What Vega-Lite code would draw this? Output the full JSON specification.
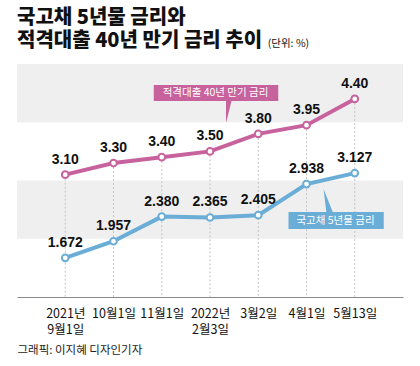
{
  "$schema": "https://vega.github.io/schema/vega-lite/v6.json",
  "autosize": {"type": "none"},
  "width": 386,
  "height": 233,
  "padding": {"left": 17, "top": 64, "right": 17, "bottom": 69},
  "background": "white",
  "title": {
    "text": ["국고채 5년물 금리와", "적격대출 40년 만기 금리 추이"],
    "anchor": "start",
    "frame": "group",
    "font": "Noto Sans CJK KR",
    "fontWeight": 900,
    "fontSize": 20,
    "lineHeight": 23,
    "color": "#111111",
    "offset": -12
  },
  "config": {"view": {"stroke": null}},
  "datasets": {
    "rates": [
      {"date": "2021년 9월1일", "loan": 3.10, "bond": 1.672},
      {"date": "10월1일", "loan": 3.30, "bond": 1.957},
      {"date": "11월1일", "loan": 3.40, "bond": 2.380},
      {"date": "2022년 2월3일", "loan": 3.50, "bond": 2.365},
      {"date": "3월2일", "loan": 3.80, "bond": 2.405},
      {"date": "4월1일", "loan": 3.95, "bond": 2.938},
      {"date": "5월13일", "loan": 4.40, "bond": 3.127}
    ],
    "bands": [
      {"lo": 4, "hi": 5},
      {"lo": 2, "hi": 3}
    ]
  },
  "encoding": {
    "x": {
      "field": "date",
      "type": "nominal",
      "scale": {
        "type": "point",
        "domain": ["2021년 9월1일", "10월1일", "11월1일", "2022년 2월3일", "3월2일", "4월1일", "5월13일"],
        "padding": 1.063
      },
      "axis": {
        "title": "그래픽: 이지혜 디자인기자",
        "titleAnchor": "start",
        "titleAlign": "left",
        "titleFont": "Noto Sans CJK KR",
        "titleFontWeight": "normal",
        "titleFontSize": 11.5,
        "titleColor": "#222222",
        "titlePadding": 9,
        "labelExpr": "split(datum.label, ' ')",
        "labelAngle": 0,
        "labelFont": "Noto Sans CJK KR",
        "labelFontSize": 12.5,
        "labelLineHeight": 16,
        "labelColor": "#111111",
        "labelPadding": 10,
        "ticks": false,
        "grid": false,
        "domainColor": "#8a8a8a",
        "domainWidth": 1
      }
    }
  },
  "layer": [
    {
      "data": {"name": "bands"},
      "mark": {"type": "rect", "color": "#efefef"},
      "encoding": {
        "x": null,
        "y": {"field": "lo", "type": "quantitative", "scale": {"domain": [1, 5], "nice": false, "zero": false}, "axis": null},
        "y2": {"field": "hi"}
      }
    },
    {
      "data": {"name": "rates"},
      "mark": {"type": "rule", "color": "#c4c4c4", "strokeDash": [2, 2], "strokeWidth": 1},
      "encoding": {
        "y": {"field": "loan", "type": "quantitative"},
        "y2": {"datum": 1}
      }
    },
    {
      "data": {"name": "rates"},
      "mark": {"type": "line", "color": "#c8629d", "strokeWidth": 4},
      "encoding": {"y": {"field": "loan", "type": "quantitative"}}
    },
    {
      "data": {"name": "rates"},
      "mark": {"type": "line", "color": "#6aadd6", "strokeWidth": 4},
      "encoding": {"y": {"field": "bond", "type": "quantitative"}}
    },
    {
      "data": {"name": "rates"},
      "mark": {"type": "point", "filled": true, "fill": "white", "stroke": "#c8629d", "strokeWidth": 2, "size": 45, "opacity": 1},
      "encoding": {"y": {"field": "loan", "type": "quantitative"}}
    },
    {
      "data": {"name": "rates"},
      "mark": {"type": "point", "filled": true, "fill": "white", "stroke": "#6aadd6", "strokeWidth": 2, "size": 45, "opacity": 1},
      "encoding": {"y": {"field": "bond", "type": "quantitative"}}
    },
    {
      "data": {"name": "rates"},
      "mark": {"type": "text", "dy": -15, "font": "Liberation Sans", "fontWeight": "bold", "fontSize": 14, "color": "#111111"},
      "encoding": {
        "y": {"field": "loan", "type": "quantitative"},
        "text": {"field": "loan", "type": "quantitative", "format": ".2f"}
      }
    },
    {
      "data": {"name": "rates"},
      "mark": {"type": "text", "dy": -15, "font": "Liberation Sans", "fontWeight": "bold", "fontSize": 14, "color": "#111111"},
      "encoding": {
        "y": {"field": "bond", "type": "quantitative"},
        "text": {"field": "bond", "type": "quantitative", "format": ".3f"}
      }
    },
    {
      "data": {"values": [{}]},
      "mark": {"type": "rect", "color": "#c8629d", "xOffset": -8, "x2Offset": 20},
      "encoding": {
        "x": {"datum": "11월1일"},
        "x2": {"datum": "3월2일"},
        "y": {"datum": 4.365},
        "y2": {"datum": 4.64}
      }
    },
    {
      "data": {"values": [{}]},
      "mark": {"type": "point", "shape": "M-0.27,-1.15L0.27,-1.15L-0.27,1Z", "filled": true, "color": "#c8629d", "size": 484, "opacity": 1, "xOffset": 19},
      "encoding": {
        "x": {"datum": "2022년 2월3일"},
        "y": {"datum": 4.176}
      }
    },
    {
      "data": {"values": [{}]},
      "mark": {"type": "text", "text": "적격대출 40년 만기 금리", "color": "white", "font": "Noto Sans CJK KR", "fontSize": 10.5, "xOffset": 5.5, "baseline": "middle"},
      "encoding": {
        "x": {"datum": "2022년 2월3일"},
        "y": {"datum": 4.502}
      }
    },
    {
      "data": {"values": [{}]},
      "mark": {"type": "rect", "color": "#6aadd6", "xOffset": -18, "x2Offset": 29},
      "encoding": {
        "x": {"datum": "4월1일"},
        "x2": {"datum": "5월13일"},
        "y": {"datum": 2.167},
        "y2": {"datum": 2.459}
      }
    },
    {
      "data": {"values": [{}]},
      "mark": {"type": "point", "shape": "M-0.43,-1.04L-0.17,1.1L0.43,1.1Z", "filled": true, "color": "#6aadd6", "size": 529, "opacity": 1, "xOffset": 22},
      "encoding": {
        "x": {"datum": "4월1일"},
        "y": {"datum": 2.648}
      }
    },
    {
      "data": {"values": [{}]},
      "mark": {"type": "text", "text": "국고채 5년물 금리", "color": "white", "font": "Noto Sans CJK KR", "fontSize": 10.5, "xOffset": 29, "baseline": "middle"},
      "encoding": {
        "x": {"datum": "4월1일"},
        "y": {"datum": 2.313}
      }
    },
    {
      "data": {"values": [{}]},
      "mark": {"type": "text", "text": "(단위: %)", "color": "#111111", "font": "Noto Sans CJK KR", "fontSize": 10.5, "align": "left", "baseline": "middle", "dx": 9.5, "dy": -20},
      "encoding": {
        "x": {"datum": "3월2일"},
        "y": {"datum": 5}
      }
    }
  ]
}
